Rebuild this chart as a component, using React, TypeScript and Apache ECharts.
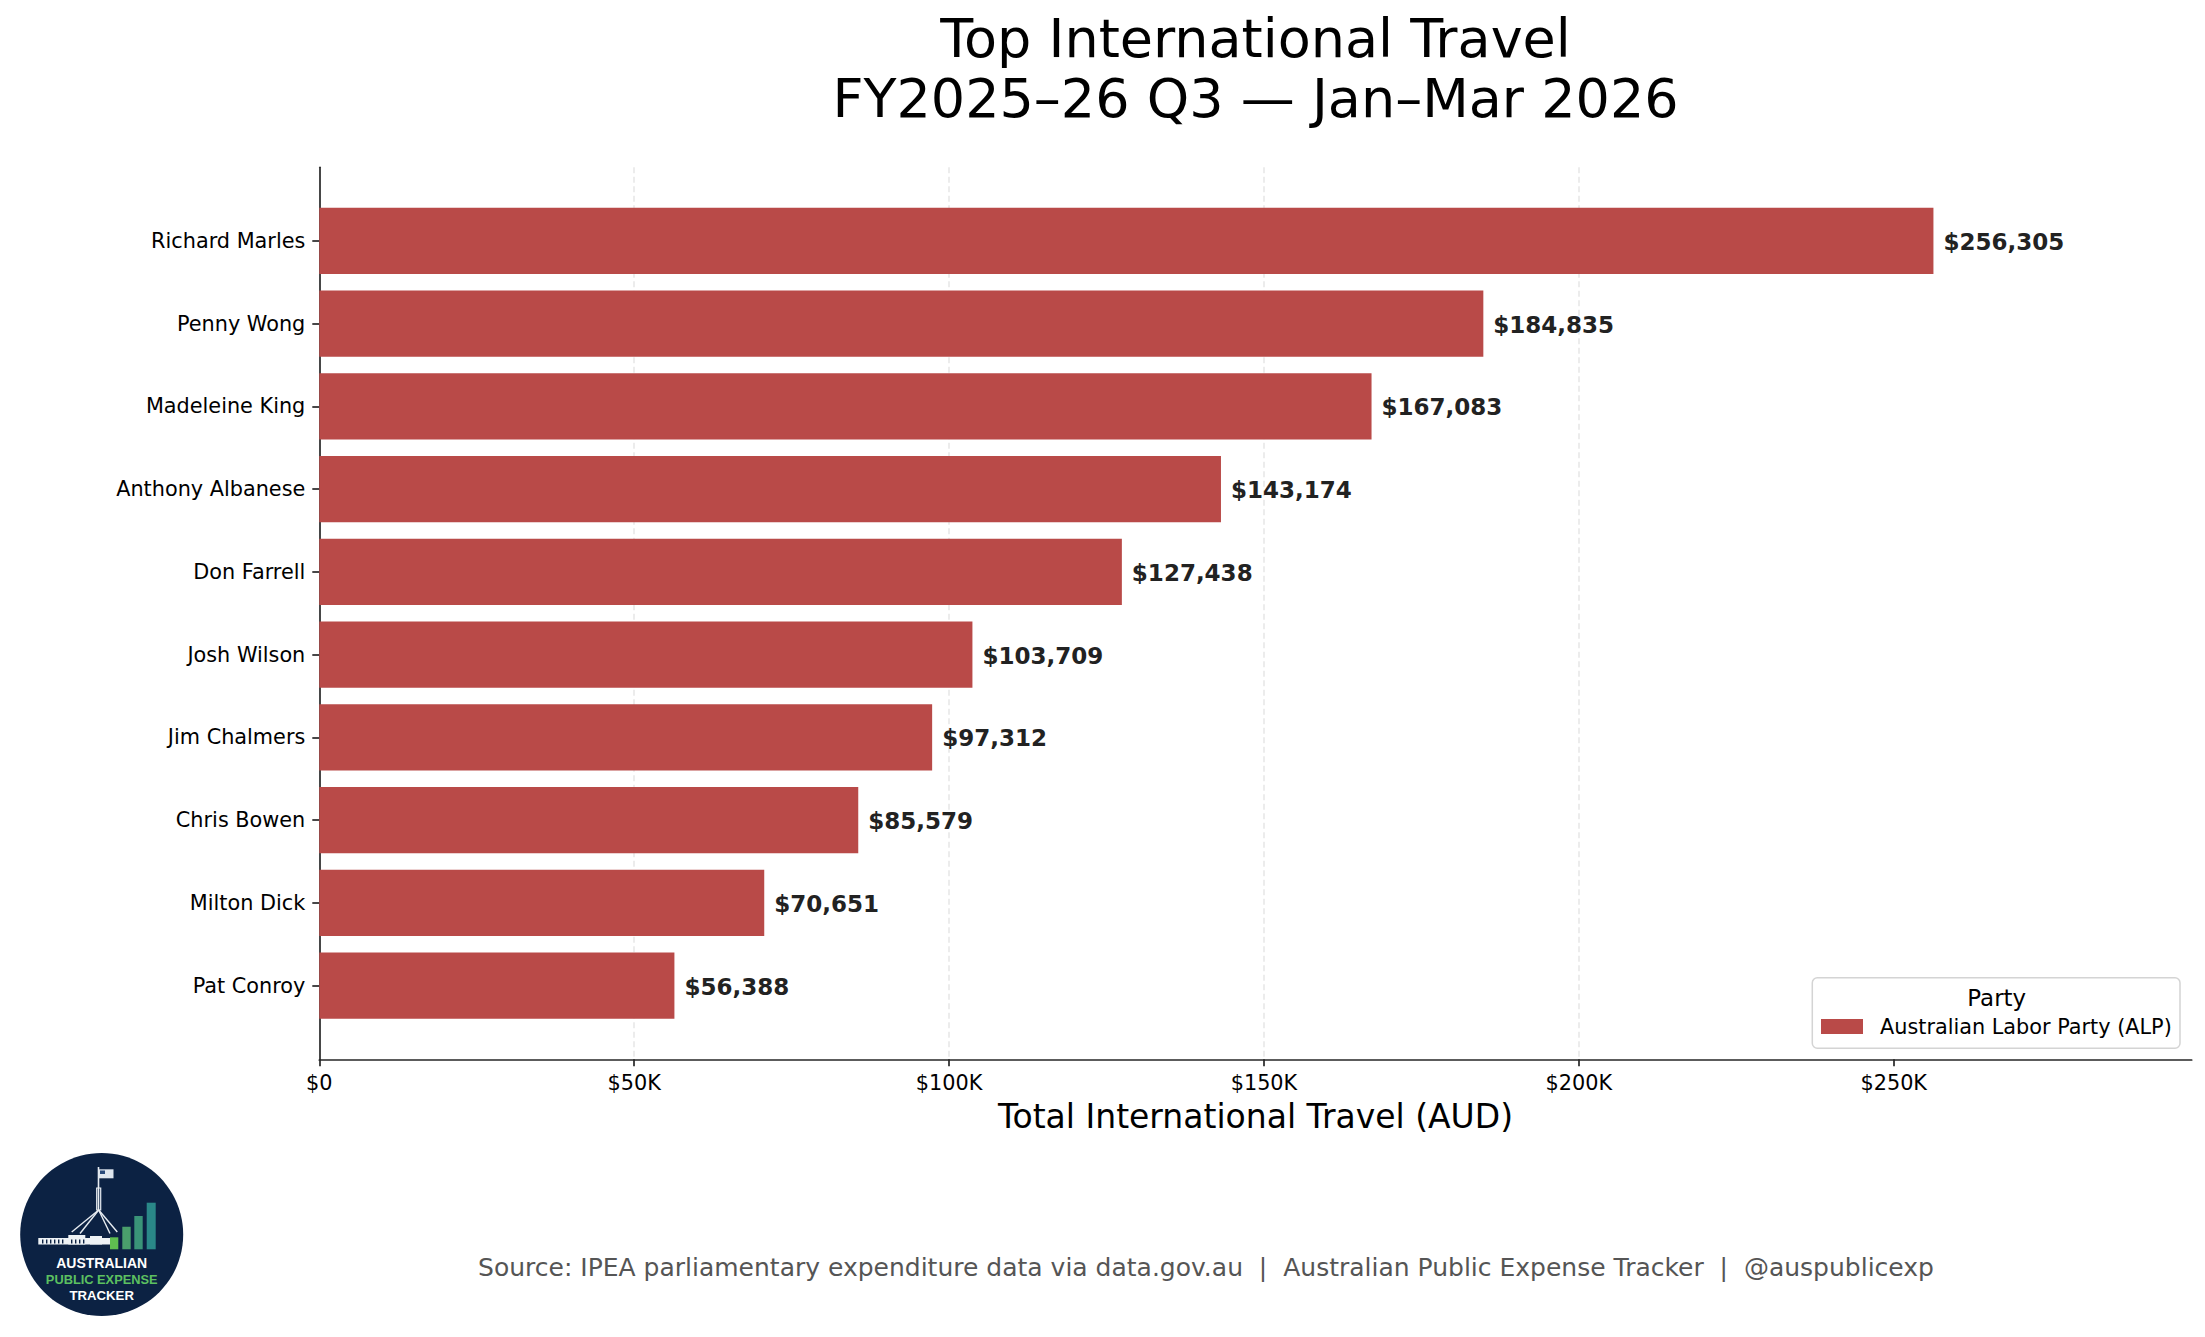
import React, { useEffect, useRef } from "react";
import * as echarts from "echarts";

const NAMES = [
  "Richard Marles",
  "Penny Wong",
  "Madeleine King",
  "Anthony Albanese",
  "Don Farrell",
  "Josh Wilson",
  "Jim Chalmers",
  "Chris Bowen",
  "Milton Dick",
  "Pat Conroy",
];
const VALUES = [256305, 184835, 167083, 143174, 127438, 103709, 97312, 85579, 70651, 56388];
const X_TICKS = [0, 50000, 100000, 150000, 200000, 250000];
const Y_TICKS = [0, 1, 2, 3, 4, 5, 6, 7, 8, 9];
const PARTY = "Australian Labor Party (ALP)";
const LEGEND_TITLE = "Party";
const TITLE_LINES = ["Top International Travel", "FY2025–26 Q3 — Jan–Mar 2026"];
const X_NAME = "Total International Travel (AUD)";
const SOURCE =
  "Source: IPEA parliamentary expenditure data via data.gov.au  |  Australian Public Expense Tracker  |  @auspublicexp";
const X_MAX = 297314;
const Y_MIN = -0.89;
const Y_MAX = 9.89;

const BAR_COLOR = "#b94a48";
const SPINE = "#262626";
const FONT = "DejaVu Sans";

const fmtMoney = (v: number) => "$" + v.toLocaleString("en-US");
const fmtTick = (v: number) => (v === 0 ? "$0" : "$" + v / 1000 + "K");

export default function App() {
  const ref = useRef<HTMLDivElement>(null);
  useEffect(() => {
    if (!ref.current) return;
    const chart = echarts.init(ref.current, undefined, { renderer: "svg" });
    const gridLeft = 319.3;
    const gridTop = 167.3;
    const gridRight = 2191.7;
    const gridBottom = 1059.3;
    const midX = (gridLeft + gridRight) / 2;

    const logo: any[] = [
      { type: "circle", shape: { cx: 101.7, cy: 1234.5, r: 81.5 }, style: { fill: "#0c2243" } },
      // flag pole
      { type: "line", shape: { x1: 98.5, y1: 1167, x2: 98.5, y2: 1210 }, style: { stroke: "#e8edf2", lineWidth: 1.6 } },
      { type: "rect", shape: { x: 96.7, y: 1188, width: 4, height: 22 }, style: { fill: "none", stroke: "#e8edf2", lineWidth: 1.2 } },
      { type: "rect", shape: { x: 98.5, y: 1169.3, width: 15, height: 9 }, style: { fill: "#dfe6ee" } },
      { type: "rect", shape: { x: 100, y: 1170.5, width: 5, height: 3.5 }, style: { fill: "#2a4a7a" } },
      // legs
      { type: "line", shape: { x1: 98.7, y1: 1210, x2: 71.7, y2: 1232 }, style: { stroke: "#e8edf2", lineWidth: 1.4 } },
      { type: "line", shape: { x1: 98.7, y1: 1210, x2: 80, y2: 1233.5 }, style: { stroke: "#e8edf2", lineWidth: 1.4 } },
      { type: "line", shape: { x1: 98.7, y1: 1210, x2: 110, y2: 1233.5 }, style: { stroke: "#e8edf2", lineWidth: 1.4 } },
      { type: "line", shape: { x1: 98.7, y1: 1210, x2: 117.3, y2: 1232 }, style: { stroke: "#e8edf2", lineWidth: 1.4 } },
      // building
      { type: "rect", shape: { x: 38.3, y: 1238, width: 71.7, height: 6.5 }, style: { fill: "#eef2f5" } },
      { type: "rect", shape: { x: 68.3, y: 1235, width: 17, height: 9.5 }, style: { fill: "#eef2f5" } },
      { type: "rect", shape: { x: 90, y: 1236, width: 12, height: 8.5 }, style: { fill: "#eef2f5" } },
      ...[42, 46, 50, 54, 58, 62, 71, 75, 79, 83].map((x) => ({
        type: "rect",
        shape: { x, y: 1239.5, width: 1.4, height: 4 },
        style: { fill: "#0c2243" },
      })),
      // bars
      { type: "rect", shape: { x: 110, y: 1237.3, width: 8.3, height: 12 }, style: { fill: "#5fbf50" } },
      { type: "rect", shape: { x: 122.3, y: 1226.7, width: 8.4, height: 22.6 }, style: { fill: "#4a9f6c" } },
      { type: "rect", shape: { x: 134.3, y: 1216, width: 8.4, height: 33.3 }, style: { fill: "#3a9478" } },
      { type: "rect", shape: { x: 146.7, y: 1202.7, width: 9, height: 46.6 }, style: { fill: "#2a8888" } },
      {
        type: "text",
        x: 101.7,
        y: 1263,
        style: { text: "AUSTRALIAN", fill: "#ffffff", font: "bold 14px 'Liberation Sans'", align: "center", verticalAlign: "middle" },
      },
      {
        type: "text",
        x: 101.7,
        y: 1279.5,
        style: { text: "PUBLIC EXPENSE", fill: "#5cc060", font: "bold 12.8px 'Liberation Sans'", align: "center", verticalAlign: "middle" },
      },
      {
        type: "text",
        x: 101.7,
        y: 1295.5,
        style: { text: "TRACKER", fill: "#ffffff", font: "bold 13.2px 'Liberation Sans'", align: "center", verticalAlign: "middle" },
      },
    ];

    const option: any = {
      animation: false,
      backgroundColor: "#ffffff",
      textStyle: { fontFamily: FONT },
      grid: {
        left: gridLeft,
        top: gridTop,
        width: gridRight - gridLeft,
        height: gridBottom - gridTop,
        containLabel: false,
      },
      legend: {
        data: [PARTY],
        left: 1821,
        top: 1016,
        padding: 0,
        icon: "rect",
        itemWidth: 42,
        itemHeight: 15,
        textStyle: { fontSize: 20.8, color: "#000", fontFamily: FONT, padding: [0, 0, 0, 12] },
        selectedMode: false,
        z: 5,
      },
      xAxis: {
        type: "value",
        min: 0,
        max: X_MAX,
        interval: 50000,
        axisLine: { show: true, onZero: false, lineStyle: { color: SPINE, width: 1.7 } },
        axisTick: { show: true, length: 7, customValues: X_TICKS, lineStyle: { color: SPINE, width: 1.7 } },
        axisLabel: {
          customValues: X_TICKS,
          formatter: (v: number) => fmtTick(v),
          fontSize: 20.8,
          color: "#000",
          fontFamily: FONT,
          margin: 13,
        },
        splitLine: {
          show: true,
          showMinLine: false,
          showMaxLine: false,
          lineStyle: { color: "#e6e6e6", width: 1.5, type: [6, 3.5] },
        },
      },
      yAxis: {
        type: "value",
        min: Y_MIN,
        max: Y_MAX,
        inverse: true,
        axisLine: { show: true, onZero: false, lineStyle: { color: SPINE, width: 1.7 } },
        axisTick: { show: true, length: 7, customValues: Y_TICKS, lineStyle: { color: SPINE, width: 1.7 } },
        axisLabel: {
          customValues: Y_TICKS,
          formatter: (v: number) => NAMES[Math.round(v)] ?? "",
          fontSize: 20.8,
          color: "#000",
          fontFamily: FONT,
          margin: 14,
        },
        splitLine: { show: false },
      },
      series: [
        {
          name: PARTY,
          type: "custom",
          itemStyle: { color: BAR_COLOR },
          encode: { x: 0, y: 1 },
          data: VALUES.map((v, i) => [v, i]),
          z: 2,
          renderItem: (params: any, api: any) => {
            const v = api.value(0);
            const idx = api.value(1);
            const start = api.coord([0, idx]);
            const end = api.coord([v, idx]);
            const h = api.size([0, 0.8])[1];
            return {
              type: "group",
              children: [
                {
                  type: "rect",
                  shape: { x: start[0], y: start[1] - h / 2, width: end[0] - start[0], height: h },
                  style: { fill: BAR_COLOR },
                },
                {
                  type: "text",
                  x: end[0] + 10,
                  y: end[1] + 1,
                  style: {
                    text: fmtMoney(v),
                    fill: "#222222",
                    font: `bold 23px '${FONT}'`,
                    align: "left",
                    verticalAlign: "middle",
                  },
                },
              ],
            };
          },
        },
      ],
      graphic: [
        {
          type: "text",
          x: midX,
          y: 38,
          style: { text: TITLE_LINES[0], fill: "#000", font: `54px '${FONT}'`, align: "center", verticalAlign: "middle" },
        },
        {
          type: "text",
          x: midX,
          y: 98,
          style: { text: TITLE_LINES[1], fill: "#000", font: `54px '${FONT}'`, align: "center", verticalAlign: "middle" },
        },
        {
          type: "text",
          x: midX,
          y: 1116,
          style: { text: X_NAME, fill: "#000", font: `33px '${FONT}'`, align: "center", verticalAlign: "middle" },
        },
        {
          type: "text",
          x: 1206,
          y: 1267,
          style: { text: SOURCE, fill: "#555555", font: `25px '${FONT}'`, align: "center", verticalAlign: "middle" },
        },
        {
          type: "rect",
          z: 3,
          shape: { x: 1812.3, y: 977.7, width: 367.7, height: 70.6, r: 5 },
          style: { fill: "rgba(255,255,255,0.8)", stroke: "#d4d4d4", lineWidth: 1.5 },
        },
        {
          type: "text",
          z: 4,
          x: 1996.7,
          y: 997.5,
          style: { text: LEGEND_TITLE, fill: "#000", font: `22.9px '${FONT}'`, align: "center", verticalAlign: "middle" },
        },
        { type: "group", children: logo },
      ],
    };
    chart.setOption(option);
    return () => chart.dispose();
  }, []);

  return (
    <div
      ref={ref}
      style={{ position: "fixed", left: 0, top: 0, width: 2205, height: 1337, background: "#fff" }}
    />
  );
}
